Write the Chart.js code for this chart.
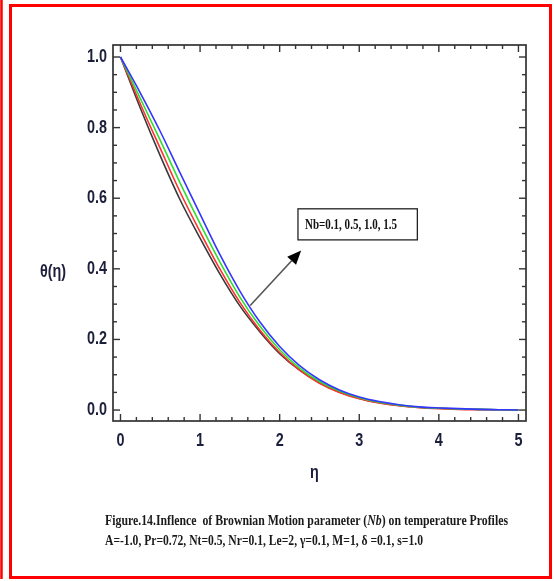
<!DOCTYPE html>
<html>
<head>
<meta charset="utf-8">
<title>Brownian motion parameter – temperature profiles</title>
<script src="https://cdn.jsdelivr.net/npm/chart.js@4/dist/chart.umd.min.js"></script>
<style>
  html, body { margin: 0; padding: 0; background: #ffffff; }
  #c { display: block; }
</style>
</head>
<body>
<canvas id="c" width="554" height="581"></canvas>
<script>
// Similarity variable η and temperature profiles θ(η) for each Nb
const eta = [0, 0.25, 0.5, 0.75, 1.0, 1.25, 1.5, 1.75, 2.0, 2.25, 2.5, 2.75, 3.0, 3.25, 3.5, 3.75, 4.0, 4.25, 4.5, 4.75, 5.0];
const thetaNb01 = [1.000, 0.855, 0.720, 0.595, 0.487, 0.385, 0.295, 0.222, 0.160, 0.113, 0.077, 0.051, 0.033, 0.021, 0.013, 0.008, 0.005, 0.003, 0.002, 0.001, 0.000];
const thetaNb05 = [1.000, 0.867, 0.741, 0.617, 0.505, 0.399, 0.305, 0.227, 0.163, 0.113, 0.076, 0.050, 0.032, 0.020, 0.012, 0.007, 0.004, 0.002, 0.001, 0.001, 0.000];
const thetaNb10 = [1.000, 0.882, 0.764, 0.643, 0.528, 0.419, 0.320, 0.238, 0.171, 0.119, 0.081, 0.054, 0.035, 0.022, 0.014, 0.008, 0.005, 0.003, 0.002, 0.001, 0.000];
const thetaNb15 = [1.000, 0.898, 0.789, 0.671, 0.555, 0.440, 0.337, 0.250, 0.180, 0.126, 0.086, 0.057, 0.037, 0.024, 0.015, 0.009, 0.006, 0.004, 0.002, 0.001, 0.000];

const nbValues = ['0.1', '0.5', '1.0', '1.5'];
const xTickValues = [0, 1, 2, 3, 4, 5];
const xTickLabels = ['0', '1', '2', '3', '4', '5'];
const yTickValues = [0, 0.2, 0.4, 0.6, 0.8, 1.0];
const yTickLabels = ['0.0', '0.2', '0.4', '0.6', '0.8', '1.0'];

const captionLine1 = ['Figure.14.Inflence  of Brownian Motion parameter (', 'Nb', ') on temperature Profiles'];
const captionLine2 = 'A=-1.0, Pr=0.72, Nt=0.5, Nr=0.1, Le=2, \u03b3=0.1, M=1, \u03b4 =0.1, s=1.0';
const annotationText = 'Nb=' + nbValues.join(', ');

const sansFont = "'Liberation Sans', Arial, sans-serif";
const serifFont = "'Liberation Serif', 'DejaVu Serif', serif";
const labelColor = '#1b1f3b';
const narrow = 0.8; // horizontal squeeze for the condensed tick lettering

// Draw text scaled horizontally to a given width (condensed look)
function fitText(ctx, parts, x, baseline, width) {
  let total = 0;
  parts.forEach(p => { ctx.font = p.font; total += ctx.measureText(p.text).width; });
  const s = width / total;
  ctx.save();
  ctx.translate(x, baseline);
  ctx.scale(s, 1);
  let cx = 0;
  parts.forEach(p => {
    ctx.font = p.font;
    ctx.fillText(p.text, cx, 0);
    cx += ctx.measureText(p.text).width;
  });
  ctx.restore();
}

// Draw condensed text anchored at (x, y)
function narrowText(ctx, text, x, y, align) {
  ctx.save();
  ctx.translate(x, y);
  ctx.scale(narrow, 1);
  ctx.textAlign = align;
  ctx.fillText(text, 0, 0);
  ctx.restore();
}

const decorations = {
  id: 'decorations',
  afterDraw(chart) {
    const { ctx, chartArea: a, scales: { x, y } } = chart;
    ctx.save();

    // page border
    ctx.strokeStyle = '#ff0000';
    ctx.lineWidth = 2.5;
    ctx.beginPath(); ctx.moveTo(1.5, 0); ctx.lineTo(1.5, 579); ctx.stroke();
    ctx.lineWidth = 3;
    ctx.strokeRect(10.5, 5.5, 540, 572);

    // plot frame
    ctx.strokeStyle = '#333333';
    ctx.lineWidth = 1.7;
    ctx.strokeRect(a.left, a.top, a.right - a.left, a.bottom - a.top);

    // inward ticks on all four sides
    ctx.lineWidth = 1.4;
    const tick = (x1, y1, x2, y2) => { ctx.beginPath(); ctx.moveTo(x1, y1); ctx.lineTo(x2, y2); ctx.stroke(); };
    for (let i = 0; i <= 25; i++) {
      const px = x.getPixelForValue(i * 0.2);
      const len = (i % 5 === 0) ? 7 : 4;
      tick(px, a.bottom, px, a.bottom - len);
      tick(px, a.top, px, a.top + len);
    }
    for (let i = 0; i <= 20; i++) {
      const py = y.getPixelForValue(i * 0.05);
      const len = (i % 4 === 0) ? 7 : 4;
      tick(a.left, py, a.left + len, py);
      tick(a.right, py, a.right - len, py);
    }

    // tick labels, condensed, taken from the scales' own ticks
    ctx.fillStyle = labelColor;
    ctx.font = 'bold 18px ' + sansFont;
    ctx.textBaseline = 'middle';
    x.ticks.forEach(t => narrowText(ctx, t.label, x.getPixelForValue(t.value), a.bottom + 20, 'center'));
    y.ticks.forEach(t => narrowText(ctx, t.label, a.left - 6, y.getPixelForValue(t.value), 'right'));

    // axis titles
    narrowText(ctx, '\u03b7', (a.left + a.right) / 2 - 5, 473, 'center');
    narrowText(ctx, '\u03b8(\u03b7)', 53, y.getPixelForValue(0.39), 'center');

    // annotation box and arrow
    const bx1 = x.getPixelForValue(2.23), bx2 = x.getPixelForValue(3.73);
    const by1 = y.getPixelForValue(0.570), by2 = y.getPixelForValue(0.482);
    ctx.strokeStyle = '#222';
    ctx.lineWidth = 1.3;
    ctx.strokeRect(bx1, by1, bx2 - bx1, by2 - by1);
    ctx.fillStyle = '#111';
    ctx.textAlign = 'left';
    ctx.textBaseline = 'alphabetic';
    fitText(ctx, [{ text: annotationText, font: 'bold 15px ' + serifFont }], bx1 + 7, (by1 + by2) / 2 + 5, 92);

    const ax1 = x.getPixelForValue(1.63), ay1 = y.getPixelForValue(0.296);
    const ax2 = x.getPixelForValue(2.27), ay2 = y.getPixelForValue(0.452);
    const ang = Math.atan2(ay2 - ay1, ax2 - ax1);
    const headLen = 14, headW = 6;
    const hx = ax2 - headLen * Math.cos(ang), hy = ay2 - headLen * Math.sin(ang);
    ctx.strokeStyle = '#555';
    ctx.lineWidth = 1.6;
    ctx.beginPath(); ctx.moveTo(ax1, ay1); ctx.lineTo(hx, hy); ctx.stroke();
    ctx.fillStyle = '#000';
    ctx.beginPath();
    ctx.moveTo(ax2, ay2);
    ctx.lineTo(hx + headW * Math.sin(ang), hy - headW * Math.cos(ang));
    ctx.lineTo(hx - headW * Math.sin(ang), hy + headW * Math.cos(ang));
    ctx.closePath();
    ctx.fill();

    // caption
    ctx.fillStyle = '#1a1a1a';
    fitText(ctx, [
      { text: captionLine1[0], font: 'bold 15px ' + serifFont },
      { text: captionLine1[1], font: 'italic bold 15px ' + serifFont },
      { text: captionLine1[2], font: 'bold 15px ' + serifFont }
    ], 105, 525, 403);
    fitText(ctx, [{ text: captionLine2, font: 'bold 15px ' + serifFont }], 105, 545, 318);

    ctx.restore();
  }
};

const lineStyle = { borderWidth: 1.6, pointRadius: 0, fill: false, cubicInterpolationMode: 'monotone' };

new Chart(document.getElementById('c'), {
  type: 'line',
  data: {
    datasets: [
      { label: 'Nb=' + nbValues[0], data: eta.map((e, i) => ({ x: e, y: thetaNb01[i] })), borderColor: '#3a3a3a', order: 3, ...lineStyle },
      { label: 'Nb=' + nbValues[1], data: eta.map((e, i) => ({ x: e, y: thetaNb05[i] })), borderColor: '#ff3030', order: 2, ...lineStyle },
      { label: 'Nb=' + nbValues[2], data: eta.map((e, i) => ({ x: e, y: thetaNb10[i] })), borderColor: '#30dd30', order: 1, ...lineStyle },
      { label: 'Nb=' + nbValues[3], data: eta.map((e, i) => ({ x: e, y: thetaNb15[i] })), borderColor: '#3535ff', order: 0, ...lineStyle }
    ]
  },
  options: {
    responsive: false,
    animation: false,
    devicePixelRatio: 1,
    layout: { padding: { left: 63, right: 28, top: 45, bottom: 120 } },
    plugins: { legend: { display: false }, tooltip: { enabled: false } },
    scales: {
      x: {
        type: 'linear',
        min: -0.094,
        max: 5.095,
        grid: { display: false, drawTicks: false },
        border: { display: false },
        afterFit: s => { s.height = 40; },
        afterBuildTicks: s => { s.ticks = xTickValues.map(v => ({ value: v })); },
        ticks: {
          padding: 10,
          color: 'rgba(0,0,0,0)',
          font: { size: 17, weight: 'bold' },
          maxRotation: 0,
          autoSkip: false,
          callback: (v) => xTickLabels[xTickValues.indexOf(v)]
        }
      },
      y: {
        type: 'linear',
        min: -0.031,
        max: 1.034,
        grid: { display: false, drawTicks: false },
        border: { display: false },
        afterFit: s => { s.width = 50; },
        afterBuildTicks: s => { s.ticks = yTickValues.map(v => ({ value: v })); },
        ticks: {
          padding: 6,
          color: 'rgba(0,0,0,0)',
          font: { size: 17, weight: 'bold' },
          autoSkip: false,
          callback: (v) => yTickLabels[yTickValues.findIndex(t => Math.abs(t - v) < 1e-9)]
        }
      }
    }
  },
  plugins: [decorations]
});
</script>
</body>
</html>
